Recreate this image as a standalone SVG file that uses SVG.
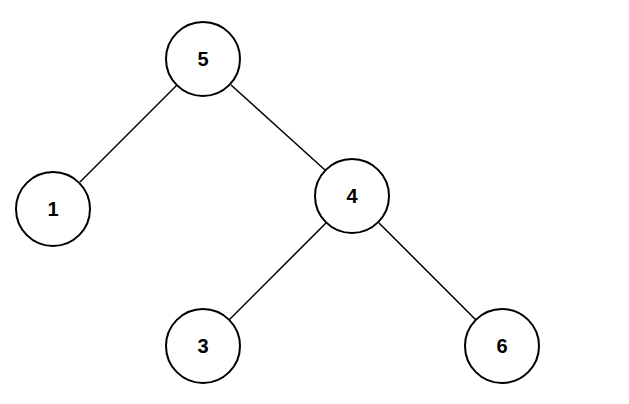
<svg xmlns="http://www.w3.org/2000/svg" width="629" height="404" viewBox="0 0 629 404">
<style>
circle{fill:#fff;stroke:#000;stroke-width:2}
text{font-family:"Liberation Sans",Arial,sans-serif;font-size:20px;font-weight:bold;text-anchor:middle;dominant-baseline:central}
line{stroke:#000;stroke-width:1.5}
</style>
<rect width="629" height="404" fill="#fff"/>
<g id="edges">
<line x1="177" y1="85" x2="80" y2="182"/>
<line x1="231" y1="85" x2="325" y2="170"/>
<line x1="326" y1="223" x2="229" y2="320"/>
<line x1="379" y1="223" x2="476" y2="320"/>
</g>
<g id="n5"><circle cx="203" cy="59" r="37"/><text x="203" y="59">5</text></g>
<g id="n1"><circle cx="53" cy="209" r="37"/><text x="53" y="209">1</text></g>
<g id="n4"><circle cx="352" cy="196" r="37"/><text x="352" y="196">4</text></g>
<g id="n3"><circle cx="203" cy="346" r="37"/><text x="203" y="346">3</text></g>
<g id="n6"><circle cx="502" cy="346" r="37"/><text x="502" y="346">6</text></g>
</svg>
